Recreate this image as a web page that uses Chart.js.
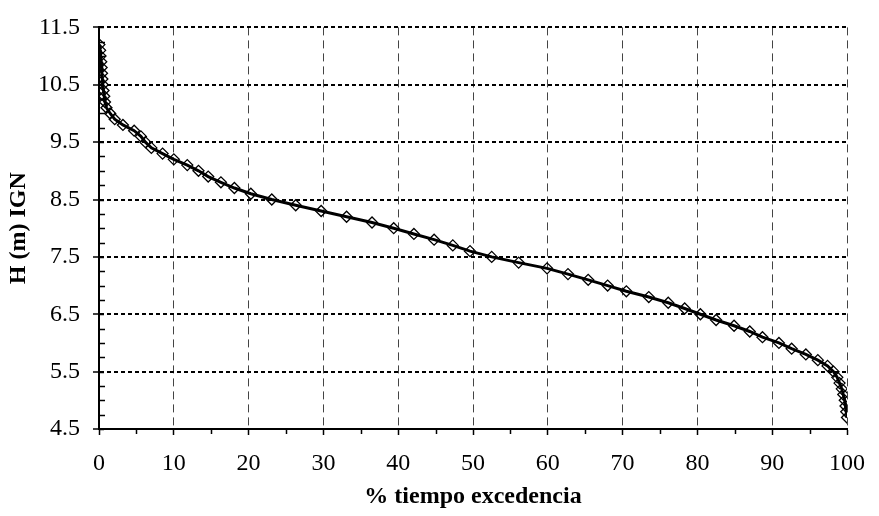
<!DOCTYPE html>
<html lang="es">
<head>
<meta charset="UTF-8">
<title>Curva de permanencia H (m) IGN</title>
<script src="https://cdn.jsdelivr.net/npm/chart.js"></script>
<style>
  html, body { margin: 0; padding: 0; background: #fff; }
</style>
</head>
<body>
<canvas id="chart" width="879" height="516"></canvas>
<script>
// % tiempo excedencia (x) for each level H (m) IGN (y)
const tiempo = [
  0.05, 0.15, 0.2, 0.3, 0.35, 0.4, 0.45, 0.5, 0.6, 0.7, 0.8, 1.0, 1.5,
  2.1, 3.2, 4.7, 5.6, 6.2, 7.0, 8.5, 10.0, 11.8, 13.3, 14.6, 16.3, 18.1,
  20.3, 23.1, 26.3, 29.7, 33.1, 36.5, 39.4, 42.1, 44.8, 47.3, 49.6, 52.5,
  56.1, 59.9, 62.7, 65.4, 68.0, 70.5, 73.5, 76.1, 78.3, 80.4, 82.5, 84.9,
  87.0, 88.7, 90.9, 92.6, 94.5, 96.1, 97.4, 98.2, 98.7, 99.0, 99.3, 99.5,
  99.7, 99.8, 99.9, 100
];
const nivel = [
  11.2, 11.1, 11.0, 10.9, 10.8, 10.7, 10.6, 10.5, 10.4, 10.3, 10.2, 10.1, 10.0,
  9.9, 9.8, 9.7, 9.6, 9.5, 9.4, 9.3, 9.2, 9.1, 9.0, 8.9, 8.8, 8.7,
  8.6, 8.5, 8.4, 8.3, 8.2, 8.1, 8.0, 7.9, 7.8, 7.7, 7.6, 7.5,
  7.4, 7.3, 7.2, 7.1, 7.0, 6.9, 6.8, 6.7, 6.6, 6.5, 6.4, 6.3,
  6.2, 6.1, 6.0, 5.9, 5.8, 5.7, 5.6, 5.5, 5.4, 5.3, 5.2, 5.1,
  5.0, 4.9, 4.8, 4.7
];

const xTicks = [0, 10, 20, 30, 40, 50, 60, 70, 80, 90, 100];
const yTicks = [4.5, 5.5, 6.5, 7.5, 8.5, 9.5, 10.5, 11.5];
const xMinor = [5, 15, 25, 35, 45, 55, 65, 75, 85, 95];
const yMinor = [
  4.75, 5.0, 5.25, 5.75, 6.0, 6.25, 6.75, 7.0, 7.25, 7.75, 8.0, 8.25,
  8.75, 9.0, 9.25, 9.75, 10.0, 10.25, 10.75, 11.0, 11.25
];

const serif = "'Liberation Serif', 'Times New Roman', serif";

// small tick marks that Chart.js doesn't draw by itself
const minorTicks = {
  id: 'minorTicks',
  afterDraw(chart) {
    const ctx = chart.ctx;
    const xs = chart.scales.x, ys = chart.scales.y;
    const left = chart.chartArea.left, bottom = chart.chartArea.bottom;
    ctx.save();
    ctx.strokeStyle = '#000';
    ctx.lineWidth = 1.5;
    ctx.beginPath();
    xMinor.forEach(v => {
      const px = Math.round(xs.getPixelForValue(v)) + 0.5;
      ctx.moveTo(px, bottom);
      ctx.lineTo(px, bottom + 5);
    });
    yMinor.forEach(v => {
      const py = Math.round(ys.getPixelForValue(v)) + 0.5;
      ctx.moveTo(left, py);
      ctx.lineTo(left + 6, py);
    });
    yTicks.forEach(v => {
      const py = Math.round(ys.getPixelForValue(v)) + 0.5;
      ctx.moveTo(left, py);
      ctx.lineTo(left + 5, py);
    });
    ctx.stroke();
    ctx.restore();
  }
};

new Chart(document.getElementById('chart'), {
  type: 'scatter',
  data: {
    datasets: [{
      data: tiempo.map((t, i) => ({ x: t, y: nivel[i] })),
      showLine: true,
      borderColor: '#000',
      borderWidth: 3,
      pointStyle: 'rectRot',
      pointRadius: 5.5,
      pointBorderWidth: 1.3,
      pointBorderColor: '#000',
      pointBackgroundColor: 'rgba(255,255,255,0)',
      tension: 0
    }]
  },
  options: {
    responsive: false,
    animation: false,
    layout: { padding: { left: 0, right: 22, top: 19, bottom: 0 } },
    plugins: { legend: { display: false }, tooltip: { enabled: false } },
    scales: {
      x: {
        type: 'linear',
        min: 0,
        max: 100,
        afterBuildTicks: s => { s.ticks = xTicks.map(v => ({ value: v })); },
        afterFit: s => { s.height = 87; },
        ticks: {
          color: '#000',
          padding: 14,
          maxRotation: 0,
          font: { family: serif, size: 24 }
        },
        grid: {
          color: '#444',
          lineWidth: 1,
          tickColor: '#000',
          tickWidth: 1.5,
          tickLength: 6
        },
        border: { color: '#000', width: 2, dash: [8, 5] },
        title: {
          display: true,
          text: '% tiempo excedencia',
          color: '#000',
          padding: { top: 0, bottom: 5 },
          font: { family: serif, size: 24, weight: 'bold' }
        }
      },
      y: {
        type: 'linear',
        min: 4.5,
        max: 11.5,
        afterBuildTicks: s => { s.ticks = yTicks.map(v => ({ value: v })); },
        afterFit: s => { s.width = 99; },
        ticks: {
          color: '#000',
          padding: 13,
          callback: v => v.toFixed(1),
          font: { family: serif, size: 24 }
        },
        grid: {
          color: '#000',
          lineWidth: 2,
          tickColor: '#000',
          tickWidth: 1.5,
          tickLength: 6
        },
        border: { color: '#000', width: 2, dash: [4, 3] },
        title: {
          display: true,
          text: 'H (m) IGN',
          color: '#000',
          padding: { top: 4, bottom: 0 },
          font: { family: serif, size: 24, weight: 'bold' }
        }
      }
    }
  },
  plugins: [minorTicks]
});
</script>
</body>
</html>
